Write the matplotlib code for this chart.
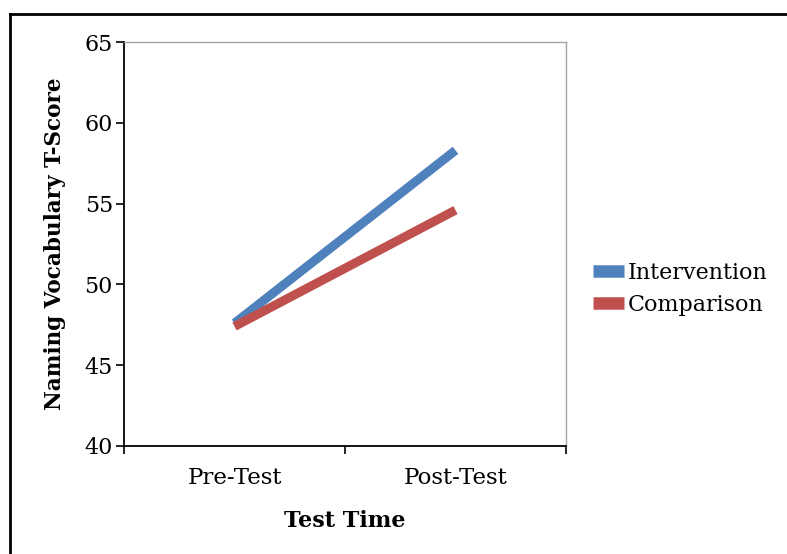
import numpy as np
import matplotlib
matplotlib.use("Agg")
import matplotlib.pyplot as plt
from matplotlib.lines import Line2D

plt.rcParams['font.family'] = ['DejaVu Serif']

# Data
categories = ["Pre-Test", "Post-Test"]
intervention = [47.6, 58.3]
comparison = [47.4, 54.6]

fig = plt.figure(figsize=(7.87, 5.54), dpi=100)
ax = fig.add_axes([0.1576, 0.195, 0.5616, 0.729])

x = np.arange(len(categories))
ax.plot(x, intervention, color="#4F81BD", lw=6.5, solid_capstyle="butt", label="Intervention")
ax.plot(x, comparison, color="#C0504D", lw=6.5, solid_capstyle="butt", label="Comparison")

ax.set_xlim(-0.5, 1.5)
ax.set_ylim(40, 65)
ax.set_yticks([40, 45, 50, 55, 60, 65])

# category boundaries get the tick marks, labels sit between them
ax.set_xticks([-0.5, 0.5, 1.5])
ax.set_xticklabels([])
ax.set_xticks(x, minor=True)
ax.set_xticklabels(categories, minor=True)
ax.tick_params(axis="x", which="minor", length=0, pad=15, labelsize=16.5)
ax.tick_params(axis="x", which="major", length=6, width=1.2, direction="out")
ax.tick_params(axis="y", length=6, width=1.2, direction="out", pad=2, labelsize=16)

for s in ["left", "bottom"]:
    ax.spines[s].set_linewidth(1.3)
    ax.spines[s].set_color("black")
for s in ["top", "right"]:
    ax.spines[s].set_linewidth(1.0)
    ax.spines[s].set_color("#A6A6A6")

ax.set_ylabel("Naming Vocabulary T-Score", fontsize=15.5, fontweight="bold", labelpad=13)
ax.set_xlabel("Test Time", fontsize=16, fontweight="bold", labelpad=15)

leg = ax.legend(loc="center left", bbox_to_anchor=(1.04, 0.389), frameon=False, fontsize=16,
                handlelength=1.4, handletextpad=0.2, labelspacing=0.45, borderaxespad=0)
for h in leg.legend_handles:
    h.set_linewidth(9)

# outer border (left and top edges visible)
fig.add_artist(Line2D([0.0121, 0.0121], [0.0, 0.9747], color="black", lw=2, transform=fig.transFigure))
fig.add_artist(Line2D([0.0121, 1.0], [0.9747, 0.9747], color="black", lw=2, transform=fig.transFigure))

fig.savefig("out.png", dpi=100)
